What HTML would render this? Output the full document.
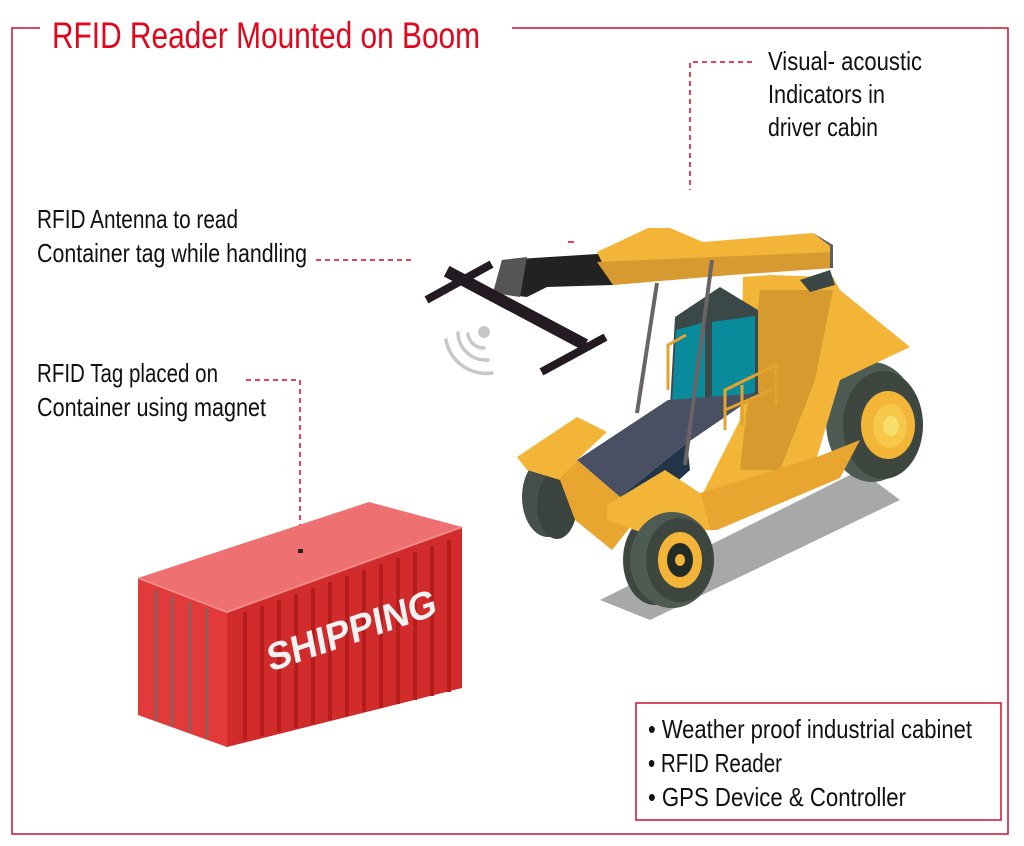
<!DOCTYPE html>
<html><head><meta charset="utf-8"><style>
html,body{margin:0;padding:0;background:#fff;}
svg{display:block;}
text{font-family:"Liberation Sans Narrow","Liberation Sans",sans-serif;}
</style></head><body>
<svg width="1024" height="846" viewBox="0 0 1024 846" xmlns="http://www.w3.org/2000/svg">
<!-- frame -->
<path d="M40 28 H12 V834 H1008 V28 H512" fill="none" stroke="#c8102e" stroke-width="1.5"/>
<text x="52" y="48" font-size="37" fill="#e3051b" textLength="428" lengthAdjust="spacingAndGlyphs">RFID Reader Mounted on Boom</text>

<!-- labels -->
<g font-size="26" fill="#111">
<text x="768" y="70" textLength="154" lengthAdjust="spacingAndGlyphs">Visual- acoustic</text>
<text x="768" y="103" textLength="117" lengthAdjust="spacingAndGlyphs">Indicators in</text>
<text x="768" y="136" textLength="110" lengthAdjust="spacingAndGlyphs">driver cabin</text>
<text x="37" y="228" textLength="201" lengthAdjust="spacingAndGlyphs">RFID Antenna to read</text>
<text x="37" y="262" textLength="270" lengthAdjust="spacingAndGlyphs">Container tag while handling</text>
<text x="37" y="382" textLength="181" lengthAdjust="spacingAndGlyphs">RFID Tag placed on</text>
<text x="37" y="416" textLength="229" lengthAdjust="spacingAndGlyphs">Container using magnet</text>
</g>
<g stroke="#e3051b" stroke-width="1.5" stroke-dasharray="5,4" fill="none">
<path d="M752 62 H690 V190"/>
<path d="M316 260 H412"/>
<path d="M246 380 H300 V550"/>
</g>
<path d="M568 242 H574" stroke="#e3051b" stroke-width="1.5"/>

<!-- box -->
<rect x="636" y="703" width="365" height="117" fill="#fff" stroke="#c8102e" stroke-width="1.5"/>
<g font-size="26" fill="#111">
<text x="648" y="738" textLength="324" lengthAdjust="spacingAndGlyphs">• Weather proof industrial cabinet</text>
<text x="648" y="772" textLength="134" lengthAdjust="spacingAndGlyphs">• RFID Reader</text>
<text x="648" y="806" textLength="258" lengthAdjust="spacingAndGlyphs">•  GPS Device &amp; Controller</text>
</g>

<!-- container -->
<polygon points="138,578 369,502 462,527 227,612" fill="#ee7070"/>
<polygon points="227,612 462,527 462,688 227,747" fill="#d22b2b"/>
<g stroke="#b51c1c" stroke-width="4">
<line x1="245" y1="612" x2="245" y2="740"/><line x1="262" y1="606" x2="262" y2="736"/>
<line x1="279" y1="600" x2="279" y2="732"/><line x1="296" y1="594" x2="296" y2="728"/>
<line x1="313" y1="588" x2="313" y2="724"/><line x1="330" y1="582" x2="330" y2="720"/>
<line x1="347" y1="576" x2="347" y2="716"/><line x1="364" y1="570" x2="364" y2="712"/>
<line x1="381" y1="564" x2="381" y2="708"/><line x1="398" y1="558" x2="398" y2="704"/>
<line x1="415" y1="552" x2="415" y2="700"/><line x1="432" y1="546" x2="432" y2="696"/>
<line x1="449" y1="540" x2="449" y2="692"/>
</g>
<polygon points="138,578 227,612 227,747 138,715" fill="#e23a3a"/>
<g stroke="#6b6b6b" stroke-width="2">
<line x1="156" y1="590" x2="156" y2="720"/><line x1="172" y1="596" x2="172" y2="726"/>
<line x1="190" y1="602" x2="190" y2="732"/><line x1="207" y1="608" x2="207" y2="738"/>
</g>
<path d="M138 578 L227 612 L462 527" fill="none" stroke="#f08888" stroke-width="2"/>
<rect x="298" y="549" width="5" height="4" fill="#222"/>
<text x="0" y="0" font-family="Liberation Sans" font-weight="bold" font-size="38" fill="#f2f2f2" transform="translate(270,672) rotate(-19) skewX(-8)" textLength="178" lengthAdjust="spacingAndGlyphs">SHIPPING</text>

<!-- shadow -->
<polygon points="600,600 860,470 900,500 650,620" fill="#a8a8a8"/>

<!-- boom arm black -->
<polygon points="502,260 613,253 613,285 547,287 527,297 493,293" fill="#222"/>
<polygon points="502,260 527,257 520,297 493,293" fill="#555"/>
<!-- fork -->
<g stroke="#231a22" stroke-width="12" stroke-linecap="square">
<line x1="452" y1="274" x2="580" y2="342"/>
</g>
<g stroke="#231a22" stroke-width="8" stroke-linecap="square">
<line x1="430" y1="298" x2="488" y2="266"/>
<line x1="545" y1="370" x2="602" y2="339"/>
</g>
<!-- wifi -->
<circle cx="484" cy="332" r="6" fill="#c8c8c8"/>
<g fill="none" stroke="#c8c8c8" stroke-width="3.5" stroke-linecap="round">
<path d="M484 348 A16 16 0 0 1 468 334"/>
<path d="M488 360 A28 28 0 0 1 458 333"/>
<path d="M492 373 A41 41 0 0 1 446 340"/>
</g>

<!-- rear-left wheel -->
<ellipse cx="548" cy="497" rx="26" ry="40" fill="#46504a"/>
<ellipse cx="557" cy="505" rx="20" ry="34" fill="#3b433e"/>
<!-- rear right wheel -->
<ellipse cx="872" cy="422" rx="46" ry="60" fill="#4d5b52"/>
<ellipse cx="883" cy="425" rx="40" ry="54" fill="#3d463f"/>
<ellipse cx="888" cy="425" rx="27" ry="34" fill="#f2b537"/>
<ellipse cx="890" cy="426" rx="17" ry="22" fill="#f5c84a"/>
<ellipse cx="891" cy="426" rx="8" ry="10" fill="#f8dc6c"/>

<!-- rear body column -->
<polygon points="743,277 770,275 833,277 840,290 910,347 840,380 817,457 717,530 703,493 740,420" fill="#f2b537"/>
<polygon points="760,290 833,290 815,380 780,470 740,470" fill="#d79a2e"/>
<polygon points="800,280 830,270 835,285 810,292" fill="#3a4744"/>
<!-- boom yellow -->
<polygon points="648,228 670,228 703,242 813,233 833,245 833,268 730,275 613,285 597,252" fill="#f2b537"/>
<polygon points="597,262 833,252 833,268 730,275 613,285" fill="#d69a30"/>
<polygon points="813,233 833,245 833,268 830,268 830,246" fill="#5a6068"/>
<!-- cabin -->
<polygon points="675,317 720,287 758,310 758,393 707,420 670,407" fill="#3b4848"/>
<polygon points="676,330 705,322 705,415 672,405" fill="#0a8b9b"/>
<polygon points="712,322 755,316 755,392 712,412" fill="#0a8b9b"/>
<!-- deck -->
<polygon points="577,460 668,400 760,393 687,443 620,497" fill="#4a5063"/>
<polygon points="620,497 687,443 690,470 640,515" fill="#213448"/>
<!-- railings -->
<g fill="none" stroke="#e4a22f" stroke-width="3">
<path d="M725 430 V390 L776 365 V405"/><path d="M725 410 L776 388"/><path d="M742 425 V385"/>
<path d="M668 390 V345 L686 335"/>
</g>
<!-- rods -->
<line x1="657" y1="283" x2="637" y2="413" stroke="#6a6466" stroke-width="4"/>
<line x1="712" y1="260" x2="685" y2="465" stroke="#6a6466" stroke-width="4"/>
<!-- front block -->
<polygon points="517,457 577,417 607,432 577,460 560,480 527,470" fill="#f2b537"/>
<polygon points="560,480 577,460 620,497 640,515 612,550 575,520" fill="#e8a52f"/>
<!-- front-left wheel stub -->
<ellipse cx="655" cy="560" rx="32" ry="45" fill="#3d463f"/>
<!-- front bumper -->
<polygon points="607,505 665,470 700,493 710,530 643,533 607,520" fill="#f2b537"/>
<polygon points="700,493 817,457 860,440 840,478 717,530 710,530" fill="#e8a52f"/>
<!-- front right wheel -->
<ellipse cx="672" cy="560" rx="42" ry="48" fill="#4d5b52"/>
<ellipse cx="680" cy="560" rx="34" ry="42" fill="#3d463f"/>
<ellipse cx="680" cy="560" rx="22" ry="28" fill="#f2b537"/>
<ellipse cx="680" cy="560" rx="13" ry="17" fill="#232b27"/>
<ellipse cx="680" cy="560" rx="5" ry="6" fill="#f2b537"/>
</svg>
</body></html>
